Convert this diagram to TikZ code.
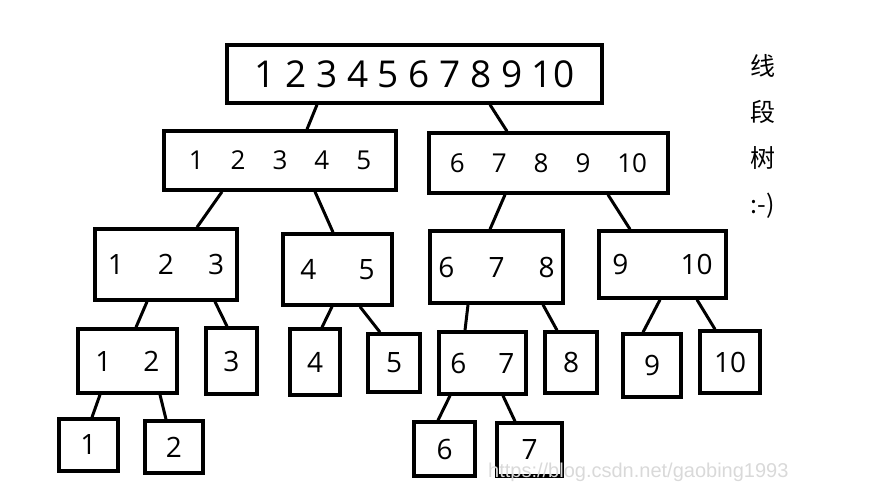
\documentclass[tikz,border=0pt]{standalone}
\usepackage{fontspec}
\setmainfont{Open Sans}
\newfontfamily\cjk{Noto Sans CJK SC}
\newfontfamily\wmfont{Liberation Sans}
\usetikzlibrary{calc}

\begin{document}
\begin{tikzpicture}[
  x=1pt, y=-1pt,
  box/.style 2 args = {draw, line width=3.5pt, inner sep=0pt, minimum width=#1pt,
                       minimum height=#2pt, font=\fontsize{28}{30}\selectfont},
  edge/.style = {line width=3pt},
]
\useasboundingbox (0,0) rectangle (874,489);
% ── Root ─────────────────────────────────────────────────────────────────────
\node[box={375}{58}, font=\fontsize{37}{40}\selectfont] (all) at (414.5,74) {1 2 3 4 5 6 7 8 9 10\hspace{12pt}};
% ── Level 1 ──────────────────────────────────────────────────────────────────
\node[box={232}{59}, font=\fontsize{26}{30}\selectfont] (n15)  at (280,160.5)
  {1\hspace{27pt}2\hspace{27pt}3\hspace{27pt}4\hspace{27pt}5\hspace{6pt}};
\node[box={239}{60}, font=\fontsize{26}{30}\selectfont] (n610) at (548.5,163)
  {6\hspace{27pt}7\hspace{27pt}8\hspace{27pt}9\hspace{27pt}10\hspace{10pt}};
% ── Level 2 ──────────────────────────────────────────────────────────────────
\node[box={142}{71}] (n123) at (166,264.5)   {1\hspace{34pt}2\hspace{34pt}3\hspace{8pt}};
\node[box={109}{71}] (n45)  at (337.5,269.5) {4\hspace{42pt}5};
\node[box={133}{72}] (n678) at (496.5,267)   {6\hspace{34pt}7\hspace{34pt}8};
\node[box={127}{67}] (n910) at (662.5,264.5) {9\hspace{52pt}10};
% ── Level 3 ──────────────────────────────────────────────────────────────────
\node[box={99}{64}] (n12) at (127.5,361) {1\hspace{32pt}2};
\node[box={51}{66}] (n3)  at (231.5,361) {3};
\node[box={50}{66}] (n4)  at (315,362)   {4};
\node[box={52}{58}] (n5)  at (394,363)   {5};
\node[box={87}{62}] (n67) at (482.5,363) {6\hspace{32pt}7};
\node[box={52}{61}] (n8)  at (571,362.5) {8};
\node[box={58}{63}] (n9)  at (652,365.5) {9};
\node[box={60}{62}] (n10) at (730,362)   {10};
% ── Level 4 ──────────────────────────────────────────────────────────────────
\node[box={59}{52}] (n1) at (88.5,445)  {1};
\node[box={58}{52}] (n2) at (174,447)   {2};
\node[box={61}{54}] (n6) at (444.5,449) {6};
\node[box={65}{53}] (n7) at (529.5,449.5) {7};

% ── Edges (parent/child/offset at parent/offset at child) ────────────────────
\foreach \a/\b/\p/\q in {all/n15/-97.5/27, all/n610/75.5/-41.5,
    n15/n123/-58/31, n15/n45/35/-4.5, n610/n678/-43.5/-6.5, n610/n910/59.5/-32.5,
    n123/n12/-19/8.5, n123/n3/49/-4.5, n45/n4/-5.5/7, n45/n5/22.5/-14,
    n678/n67/-28.5/-17.5, n678/n8/46.5/-14, n910/n9/-2.5/-9, n910/n10/34.5/-15,
    n12/n1/-27.5/3.5, n12/n2/32.5/-8, n67/n6/-32.5/-6.5, n67/n7/20.5/-14.5}
  \draw[edge] ([xshift=\p pt]\a.south) -- ([xshift=\q pt]\b.north);

% ── Side title ───────────────────────────────────────────────────────────────
\node[align=center, font={\cjk\fontsize{25}{46}\selectfont}] (title) at (763,136) {线\\段\\树\\:-)};
% ── Watermark ────────────────────────────────────────────────────────────────
\node[font={\wmfont\fontsize{20}{22}\selectfont}, text=gray!30, anchor=west, inner sep=0pt] (wm) at (488,472)
  {https://blog.csdn.net/gaobing1993};
\end{tikzpicture}
\end{document}
